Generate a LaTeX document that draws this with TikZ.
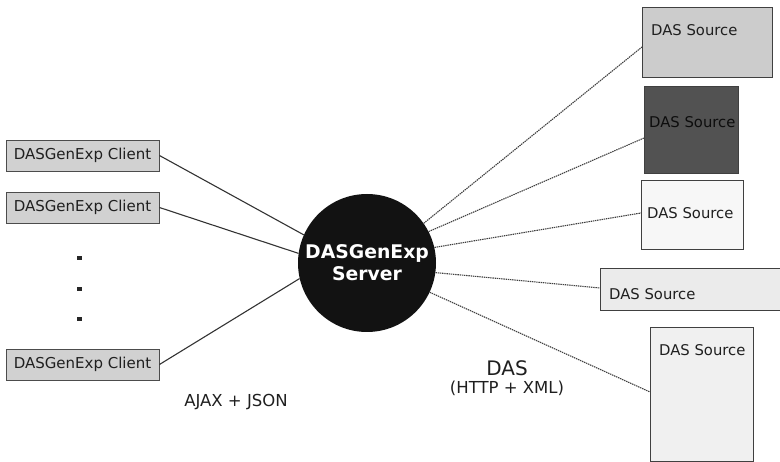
\documentclass[tikz,border=0pt]{standalone}
\usepackage{fontspec}
\setmainfont{DejaVu Sans}
\begin{document}
\begin{tikzpicture}[x=1pt,y=-1pt,
  client/.style={draw=black!70, fill=black!18, line width=0.9pt, minimum width=153pt, minimum height=31pt, inner sep=0pt, font=\fontsize{15}{17}\selectfont, text=black!88},
  srcbox/.style={draw=black!75, line width=1pt, inner sep=0pt, anchor=north west},
  srctext/.style={font=\fontsize{14.8}{17}\selectfont, text=black!88, inner sep=0pt, anchor=west},
  cline/.style={draw=black!80, line width=1.1pt},
  sline/.style={draw=black!75, line width=1.1pt, dash pattern=on 1.4pt off 0.8pt},
  lbl/.style={font=\fontsize{16.5}{19}\selectfont, text=black!88, inner sep=0pt}
]
\useasboundingbox (0,0) rectangle (780,462);

% server
\node[circle, fill=black!93, minimum size=138pt, inner sep=0pt, align=center,
      font=\fontsize{18.8}{22}\selectfont\bfseries, text=white] (srv) at (367,263) {DASGenExp\\Server};

% clients
\node[client] (c1) at (82.5,155.5) {DASGenExp Client};
\node[client] (c2) at (82.5,207.5) {DASGenExp Client};
\node[client] (c4) at (82.5,364.5) {DASGenExp Client};
\fill[black!85] (77,256) rectangle (82,260);
\fill[black!85] (77,287) rectangle (82,291);
\fill[black!85] (77,317) rectangle (82,321);

\draw[cline] (c1.east) -- (srv.156);
\draw[cline] (c2.east) -- (srv.172);
\draw[cline] (c4.east) -- (srv.193);

% sources
\node[srcbox, fill=black!20, minimum width=130pt, minimum height=70pt] (s1) at (642,7) {};
\node[srctext] (s1t) at (651,30) {DAS Source};
\node[srcbox, fill=black!68, minimum width=94pt, minimum height=87pt] (s2) at (644,86) {};
\node[srctext, text=black!95] (s2t) at (649,122) {DAS Source};
\node[srcbox, fill=black!3, minimum width=102pt, minimum height=69pt] (s3) at (641,180) {};
\node[srctext] (s3t) at (647,213.5) {DAS Source};
\node[srcbox, fill=black!8, minimum width=185pt, minimum height=42pt] (s4) at (600,268) {};
\node[srctext] (s4t) at (609,294) {DAS Source};
\node[srcbox, fill=black!6, minimum width=103pt, minimum height=134pt] (s5) at (650,327) {};
\node[srctext] (s5t) at (659,350) {DAS Source};

\coordinate (e1) at (642,47);
\coordinate (e2) at (644,138);
\coordinate (e3) at (641,213);
\coordinate (e4) at (600,288);
\coordinate (e5) at (650,392);
\draw[sline] (srv.35) -- (e1);
\draw[sline] (srv.27) -- (e2);
\draw[sline] (srv.13) -- (e3);
\draw[sline] (srv.-8.5) -- (e4);
\draw[sline] (srv.-25) -- (e5);

% labels
\node[lbl] (ajax) at (236,402) {AJAX + JSON};
\node[lbl, font=\fontsize{20}{24}\selectfont] (das) at (507,368) {DAS};
\node[lbl] (http) at (507,388) {(HTTP + XML)};
\end{tikzpicture}
\end{document}
